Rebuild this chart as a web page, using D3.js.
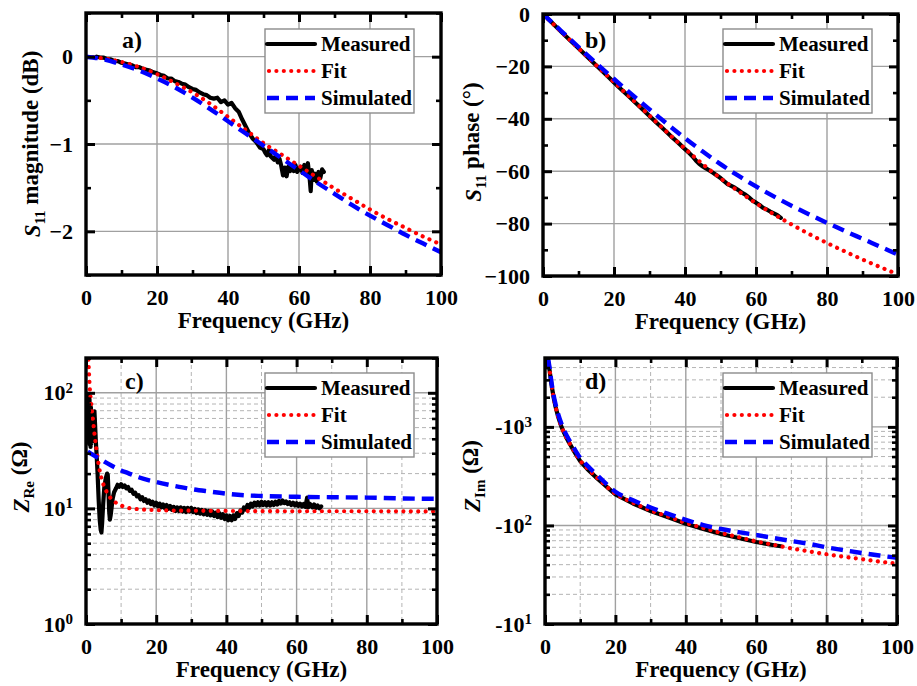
<!DOCTYPE html>
<html>
<head>
<meta charset="utf-8">
<script src="https://cdn.jsdelivr.net/npm/d3@7"></script>
<style>
  body { margin: 0; background: #fff; }
  svg { display: block; }
  text { font-family: "Liberation Serif", "Times New Roman", serif; font-weight: bold; fill: #000; }
</style>
</head>
<body>
<svg id="fig" width="917" height="686"></svg>
<script>
// ---------- shared axis values ----------
const freqTicks = [0, 20, 40, 60, 80, 100];
const freqMinor = [10, 30, 50, 70, 90];
const seriesNames = ["Measured", "Fit", "Simulated"];
const panelTags = ["a)", "b)", "c)", "d)"];
const xTitle = "Frequency (GHz)";

// ---------- (a) S11 magnitude [GHz, dB] ----------
const magTicks = [-2, -1, 0];
const magMinor = [-2.5, -1.5, -0.5, 0.5];
const magMeasured = [[3,0],[4,-0.01],[5,-0.01],[6,-0.03],[7,-0.03],[8,-0.05],[9,-0.05],[10,-0.07],
  [11,-0.08],[12,-0.09],[13,-0.10],[14,-0.12],[15,-0.12],[16,-0.14],[17,-0.15],[18,-0.16],[19,-0.18],[20,-0.19],
  [21,-0.21],[22,-0.22],[23,-0.25],[24,-0.25],[25,-0.28],[26,-0.29],[27,-0.31],[28,-0.32],[29,-0.35],[30,-0.37],
  [31,-0.38],[32,-0.41],[33,-0.43],[34,-0.44],[35,-0.47],[36,-0.48],[37,-0.47],[38,-0.52],[39,-0.50],[40,-0.55],
  [41,-0.53],[42,-0.59],[43,-0.63],[44,-0.72],[45,-0.80],[46,-0.88],[47,-0.94],[48,-0.98],[49,-1.04],[50,-1.06],
  [50.5,-1.10],[51,-1.13],[51.5,-1.07],[52,-1.14],[52.5,-1.16],[53,-1.18],[53.5,-1.13],[54,-1.21],[54.5,-1.17],
  [55,-1.25],[55.5,-1.36],[56,-1.27],[56.5,-1.37],[57,-1.26],[57.5,-1.31],[58,-1.25],[58.5,-1.31],[59,-1.24],
  [59.5,-1.32],[60,-1.29],[60.5,-1.26],[61,-1.33],[61.5,-1.24],[62,-1.34],[62.5,-1.22],[63,-1.39],[63.3,-1.54],
  [63.6,-1.30],[64,-1.41],[64.5,-1.34],[65,-1.43],[65.5,-1.32],[66,-1.39],[66.5,-1.29],[67,-1.32]];
const magFit = [[0,0],[5,-0.02],[10,-0.06],[15,-0.12],[20,-0.20],[25,-0.30],[30,-0.41],[35,-0.54],[40,-0.69],
  [45,-0.84],[50,-0.99],[55,-1.12],[60,-1.25],[65,-1.38],[70,-1.51],[75,-1.63],[80,-1.75],[85,-1.86],[90,-1.96],
  [95,-2.06],[100,-2.15]];
const magSim = [[0,0],[5,-0.03],[10,-0.09],[15,-0.16],[20,-0.25],[25,-0.35],[30,-0.47],[35,-0.60],[40,-0.74],
  [45,-0.88],[50,-1.02],[55,-1.16],[60,-1.30],[65,-1.44],[70,-1.57],[75,-1.70],[80,-1.82],[85,-1.93],[90,-2.04],
  [95,-2.14],[100,-2.24]];

// ---------- (b) S11 phase [GHz, deg] ----------
const phaseTicks = [-100, -80, -60, -40, -20, 0];
const phaseMinor = [-90, -70, -50, -30, -10];
const phaseMeasured = [[0.5,-0.6],[2,-2.6],[4,-5.3],[6,-7.9],[8,-10.5],[10,-13.1],[12,-15.7],[14,-18.3],
  [16,-20.9],[18,-23.5],[20,-26.1],[22,-28.7],[24,-31.2],[26,-33.8],[28,-36.3],[30,-38.9],[32,-41.5],[34,-44.0],
  [36,-46.6],[38,-49.0],[40,-51.6],[41,-52.8],[42,-54.2],[43,-55.8],[44,-57.2],[45,-58.2],[46,-59.0],[48,-60.7],
  [50,-62.6],[51,-63.8],[52,-64.9],[53,-65.6],[54,-66.3],[55,-67.2],[56,-68.2],[57,-68.9],[58,-70.0],[59,-71.2],
  [60,-72.0],[61,-72.9],[62,-74.0],[63,-74.6],[64,-75.4],[65,-76.1],[66,-76.8],[67,-77.8]];
const phaseFit = [[0,0],[5,-6.6],[10,-13.1],[15,-19.6],[20,-26],[25,-32.4],[30,-38.8],[35,-45.2],[40,-51.4],
  [45,-57.3],[50,-62.7],[55,-67.6],[60,-72.2],[65,-76.4],[70,-80.3],[75,-84],[80,-87.4],[85,-90.6],[90,-93.7],
  [95,-96.6],[100,-99.4]];
const phaseSim = [[0,0],[5,-6.3],[10,-12.6],[15,-18.8],[20,-24.8],[25,-30.7],[30,-36.4],[35,-42],[40,-47.4],
  [45,-52.5],[50,-57.3],[55,-61.7],[60,-65.8],[65,-69.6],[70,-73.2],[75,-76.5],[80,-79.7],[85,-82.8],[90,-85.8],
  [95,-88.8],[100,-91.8]];

// ---------- (c) real part of impedance [GHz, ohm] ----------
const zreTicks = [1, 10, 100];
const zreMeasured = [[0.3,45],[0.4,95],[0.5,50],[0.6,98],[0.7,40],[0.8,92],[0.9,36],[1.0,88],[1.1,38],
  [1.2,80],[1.3,34],[1.4,75],[1.5,36],[1.6,62],[1.7,38],[1.8,55],[1.9,40],[2.0,58],[2.2,48],[2.4,69],[2.6,52],
  [2.8,38],[3.0,30],[3.3,20],[3.6,12],[3.9,8],[4.2,6.5],[4.4,6.2],[4.6,7.5],[4.9,11],[5.2,15],[5.6,18],[6.0,20],
  [6.2,19.5],[6.4,14],[6.6,9.5],[6.8,8.0],[7.0,8.6],[7.3,10.2],[7.6,12.2],[8.0,13.8],[8.6,15.0],[9.0,16.0],
  [9.5,15.4],[10,16.2],[10.5,15.3],[11,15.8],[11.5,14.9],[12,15.3],[12.5,14.2],[13,14.5],[13.5,13.4],[14,13.7],
  [14.5,12.7],[15,13.0],[15.5,12.0],[16,12.5],[16.5,11.6],[17,12.0],[17.5,11.2],[18,11.7],[18.5,10.9],[19,11.4],
  [19.5,10.6],[20,11.2],[20.5,10.4],[21,11.0],[21.5,10.2],[22,10.8],[22.5,10.0],[23,10.7],[23.5,9.9],[24,10.5],
  [24.5,9.7],[25,10.3],[25.5,9.5],[26,10.2],[26.5,9.5],[27,10.2],[27.5,9.4],[28,10.1],[28.5,9.3],[29,10.1],
  [29.5,9.4],[30,10.1],[30.5,9.3],[31,9.9],[31.5,9.1],[32,9.8],[32.5,9.0],[33,9.7],[33.5,8.9],[34,9.6],[34.5,8.8],
  [35,9.5],[35.5,8.7],[36,9.4],[36.5,8.6],[37,9.2],[37.5,8.4],[38,9.1],[38.5,8.3],[39,8.9],[39.5,8.1],[40,8.7],
  [40.5,7.9],[41,8.6],[41.5,7.9],[42,8.7],[42.5,8.1],[43,9.1],[43.5,8.6],[44,9.6],[44.5,9.2],[45,10.2],[45.5,9.8],
  [46,10.7],[46.5,10.1],[47,11.0],[47.5,10.4],[48,11.2],[48.5,10.6],[49,11.3],[49.5,10.6],[50,11.4],[50.5,10.7],
  [51,11.3],[51.5,10.6],[52,11.3],[52.5,10.6],[53,11.3],[53.5,10.7],[54,11.4],[54.5,10.8],[55,11.6],[55.5,11.0],
  [56,11.7],[56.5,11.1],[57,11.5],[57.5,10.9],[58,11.3],[58.5,10.7],[59,11.2],[59.5,10.6],[60,11.1],[60.5,10.5],
  [61,11.0],[61.5,10.4],[62,10.9],[62.5,10.3],[63,12.4],[63.3,10.2],[63.6,11.0],[64,10.8],[64.5,10.2],[65,10.8],
  [65.5,10.1],[66,10.6],[66.5,10.0],[67,10.4]];
const zreFit = [[0.5,260],[0.8,160],[1.0,120],[1.5,80],[2.0,58],[2.5,42],[3.0,32],[3.5,25],[4.0,20.5],[5.0,16],
  [6.0,13.7],[7.0,12.3],[8.0,11.5],[10,10.6],[12,10.1],[15,9.85],[20,9.65],[30,9.55],[40,9.5],[60,9.45],[80,9.45],
  [100,9.4]];
const zreSim = [[0.5,31],[2,29],[4,26.8],[6,24.6],[8,22.8],[10,21.3],[12,20.2],[15,18.6],[20,16.9],[25,15.7],
  [30,14.7],[35,14.0],[40,13.4],[45,13.0],[50,12.8],[60,12.6],[70,12.5],[80,12.4],[90,12.2],[100,12.1]];

// ---------- (d) imaginary part of impedance, magnitude of the negative value [GHz, ohm] ----------
const zimTicks = [10, 100, 1000];
const zimMeasured = [[1.0,4500],[1.3,3750],[1.8,2750],[2.5,1950],[3,1600],[3.7,1280],[4.7,995],[6,785],[8,585],
  [10,450],[12,375],[15,296],[20,207],[25,167],[30,140],[35,121],[40,104],[45,92],[50,82],[55,74.5],[60,68],
  [63,65],[65,63],[67,61.5]];
const zimFit = [[0.9,5000],[1.0,4600],[1.3,3800],[1.8,2750],[2.5,1950],[3,1600],[3.7,1280],[4.7,1000],[6,790],
  [8,590],[10,455],[12,380],[15,300],[20,210],[25,170],[30,142],[35,123],[40,106],[45,94],[50,84],[55,76],[60,69],
  [65,63.5],[70,58.5],[75,54.5],[80,51],[85,48],[90,45.5],[95,43],[100,41]];
const zimSim = [[0.9,5100],[1.0,4700],[1.3,4000],[1.8,2900],[2.5,2050],[3,1700],[3.7,1360],[4.7,1070],[6,840],
  [8,630],[10,485],[12,405],[15,320],[20,220],[25,180],[30,152],[35,131],[40,114],[45,101],[50,92],[55,85.5],
  [60,80],[65,74.5],[70,69.5],[75,65],[80,60],[85,56],[90,52.5],[95,49.5],[100,47]];

// ---------- layout and styling ----------
const panels = [
  { id: "a", tag: panelTags[0], left: 86, right: 441, top: 13, bottom: 275, log: false,
    yDomain: [-2.5, 0.5], yTicks: magTicks, yMinor: magMinor,
    data: [magMeasured, magFit, magSim],
    yTitle: { main: "S", sub: "11", rest: " magnitude (dB)", x: 40, y: 144 },
    legend: { x: 265, y: 29 }, tagPos: { x: 122, y: 48 } },
  { id: "b", tag: panelTags[1], left: 543, right: 898, top: 14, bottom: 276, log: false,
    yDomain: [-100, 0], yTicks: phaseTicks, yMinor: phaseMinor,
    data: [phaseMeasured, phaseFit, phaseSim],
    yTitle: { main: "S", sub: "11", rest: " phase (°)", x: 481, y: 142 },
    legend: { x: 723, y: 29 }, tagPos: { x: 585, y: 48 } },
  { id: "c", tag: panelTags[2], left: 86, right: 437, top: 358, bottom: 624, log: true,
    yDomain: [1, 200], yTicks: zreTicks, prefix: "",
    data: [zreMeasured, zreFit, zreSim],
    yTitle: { main: "Z", sub: "Re", rest: " (Ω)", x: 29, y: 477 },
    legend: { x: 265, y: 373 }, tagPos: { x: 125, y: 389 } },
  { id: "d", tag: panelTags[3], left: 545, right: 897, top: 358, bottom: 624, log: true,
    yDomain: [10, 5000], yTicks: zimTicks, prefix: "-",
    data: [zimMeasured, zimFit, zimSim],
    yTitle: { main: "Z", sub: "Im", rest: " (Ω)", x: 480, y: 476 },
    legend: { x: 723, y: 373 }, tagPos: { x: 585, y: 389 } }
];

const lineStyles = [
  { color: "#000000", width: 4.2, dash: null, cap: "round" },
  { color: "#ff0000", width: 4.2, dash: "0.01 7.4", cap: "round" },
  { color: "#0000ff", width: 4.4, dash: "12 7", cap: "butt" }
];

const svg = d3.select("#fig");
svg.append("rect").attr("width", 917).attr("height", 686).attr("fill", "#fff");

function logMinors(domain) {
  const out = [];
  const lo = Math.floor(Math.log10(domain[0])), hi = Math.ceil(Math.log10(domain[1]));
  for (let e = lo; e < hi; e++) {
    for (let k = 2; k <= 9; k++) {
      const v = k * Math.pow(10, e);
      if (v > domain[0] && v <= domain[1]) out.push(v);
    }
  }
  return out;
}

function styleAxis(sel, width) {
  sel.select(".domain").remove();
  sel.selectAll(".tick line").attr("stroke", "#000").attr("stroke-width", width);
}

panels.forEach(p => {
  const g = svg.append("g");
  const x = d3.scaleLinear().domain([0, 100]).range([p.left, p.right]);
  const y = (p.log ? d3.scaleLog() : d3.scaleLinear()).domain(p.yDomain).range([p.bottom, p.top]);
  const yMinor = p.log ? logMinors(p.yDomain) : p.yMinor;

  // clipping region for data
  g.append("clipPath").attr("id", "clip-" + p.id)
    .append("rect").attr("x", p.left).attr("y", p.top)
    .attr("width", p.right - p.left).attr("height", p.bottom - p.top);

  // dashed minor grid (log panels)
  if (p.log) {
    const mg = g.append("g").attr("stroke", "#b4b4b4").attr("stroke-width", 1).attr("stroke-dasharray", "4 3");
    mg.selectAll("line.vx").data(freqMinor).join("line")
      .attr("x1", d => x(d)).attr("x2", d => x(d)).attr("y1", p.top).attr("y2", p.bottom);
    mg.selectAll("line.hy").data(yMinor).join("line")
      .attr("x1", p.left).attr("x2", p.right).attr("y1", d => y(d)).attr("y2", d => y(d));
  }
  // solid major grid
  const gg = g.append("g").attr("stroke", "#a0a0a0").attr("stroke-width", 1.4);
  gg.selectAll("line.v").data(freqTicks.slice(1, -1)).join("line")
    .attr("x1", d => x(d)).attr("x2", d => x(d)).attr("y1", p.top).attr("y2", p.bottom);
  gg.selectAll("line.h").data(p.yTicks).join("line")
    .attr("x1", p.left).attr("x2", p.right).attr("y1", d => y(d)).attr("y2", d => y(d));

  // data series
  const dg = g.append("g").attr("clip-path", `url(#clip-${p.id})`);
  p.data.forEach((series, i) => {
    const st = lineStyles[i];
    const line = d3.line().x(d => x(d[0])).y(d => y(d[1]))
      .curve(i === 0 ? d3.curveLinear : d3.curveMonotoneX);
    dg.append("path").datum(series).attr("d", line)
      .attr("fill", "none").attr("stroke", st.color).attr("stroke-width", st.width)
      .attr("stroke-linecap", st.cap).attr("stroke-linejoin", "round")
      .attr("stroke-dasharray", st.dash);
  });

  // ticks on all four sides, pointing inward
  const bottomAx = d3.axisBottom(x).tickValues(freqTicks).tickSize(-9).tickPadding(14).tickFormat(d3.format("d"));
  const ab = g.append("g").attr("transform", `translate(0,${p.bottom})`).call(bottomAx);
  styleAxis(ab, 3);
  ab.selectAll("text").attr("font-size", 22).attr("fill", "#000")
    .attr("font-family", "Liberation Serif, Times New Roman, serif").attr("font-weight", "bold");
  const abm = g.append("g").attr("transform", `translate(0,${p.bottom})`)
    .call(d3.axisBottom(x).tickValues(freqMinor).tickSize(-5).tickFormat(""));
  styleAxis(abm, 2.6);
  const at = g.append("g").attr("transform", `translate(0,${p.top})`)
    .call(d3.axisTop(x).tickValues(freqTicks).tickSize(-9).tickFormat(""));
  styleAxis(at, 3);
  const atm = g.append("g").attr("transform", `translate(0,${p.top})`)
    .call(d3.axisTop(x).tickValues(freqMinor).tickSize(-5).tickFormat(""));
  styleAxis(atm, 2.6);

  const leftAx = d3.axisLeft(y).tickValues(p.yTicks).tickSize(-9).tickPadding(13);
  if (!p.log) leftAx.tickFormat(d3.format("d"));
  const al = g.append("g").attr("transform", `translate(${p.left},0)`).call(leftAx);
  styleAxis(al, 3);
  al.selectAll("text").attr("font-size", 22).attr("fill", "#000")
    .attr("font-family", "Liberation Serif, Times New Roman, serif").attr("font-weight", "bold");
  if (p.log) {
    al.selectAll("text").each(function (d) {
      const t = d3.select(this);
      t.text(null);
      t.append("tspan").text(p.prefix + "10");
      t.append("tspan").attr("dy", "-0.5em").attr("font-size", 15).text(Math.round(Math.log10(d)));
    });
  }
  const alm = g.append("g").attr("transform", `translate(${p.left},0)`)
    .call(d3.axisLeft(y).tickValues(yMinor).tickSize(-5).tickFormat(""));
  styleAxis(alm, 2.6);
  const ar = g.append("g").attr("transform", `translate(${p.right},0)`)
    .call(d3.axisRight(y).tickValues(p.yTicks).tickSize(-9).tickFormat(""));
  styleAxis(ar, 3);
  const arm = g.append("g").attr("transform", `translate(${p.right},0)`)
    .call(d3.axisRight(y).tickValues(yMinor).tickSize(-5).tickFormat(""));
  styleAxis(arm, 2.6);

  // frame
  g.append("rect").attr("x", p.left).attr("y", p.top)
    .attr("width", p.right - p.left).attr("height", p.bottom - p.top)
    .attr("fill", "none").attr("stroke", "#000").attr("stroke-width", 3.4);

  // panel tag
  g.append("text").attr("x", p.tagPos.x).attr("y", p.tagPos.y).attr("font-size", 24).text(p.tag);

  // legend
  const lg = g.append("g").attr("transform", `translate(${p.legend.x},${p.legend.y})`);
  lg.append("rect").attr("width", 149).attr("height", 84).attr("fill", "#fff")
    .attr("stroke", "#8c8c8c").attr("stroke-width", 1.4);
  seriesNames.forEach((name, i) => {
    const st = lineStyles[i];
    const ry = 15 + i * 27;
    lg.append("line").attr("x1", i === 1 ? 4 : 2).attr("x2", 50).attr("y1", ry).attr("y2", ry)
      .attr("stroke", st.color).attr("stroke-width", st.width).attr("stroke-linecap", st.cap)
      .attr("stroke-dasharray", st.dash);
    lg.append("text").attr("x", 56).attr("y", ry).attr("dy", "0.34em").attr("font-size", 21).text(name);
  });

  // axis titles
  g.append("text").attr("x", (p.left + p.right) / 2).attr("y", p.bottom + 53)
    .attr("text-anchor", "middle").attr("font-size", 23).text(xTitle);
  const yt = g.append("text").attr("transform", `translate(${p.yTitle.x},${p.yTitle.y}) rotate(-90)`)
    .attr("text-anchor", "middle").attr("font-size", 23);
  yt.append("tspan").attr("font-style", "italic").text(p.yTitle.main);
  yt.append("tspan").attr("dy", "0.3em").attr("font-size", 15).text(p.yTitle.sub);
  yt.append("tspan").attr("dy", "-0.3em").text(p.yTitle.rest);
});
</script>
</body>
</html>
